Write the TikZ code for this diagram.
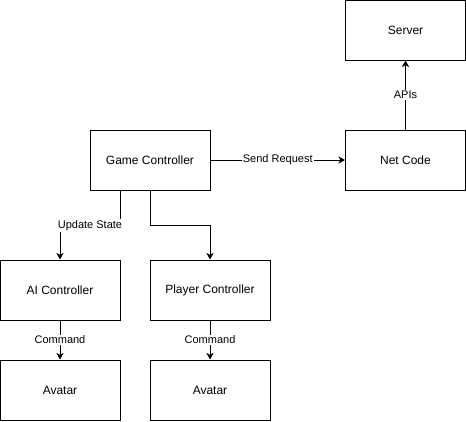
\documentclass[tikz,border=0pt]{standalone}
\usepackage{fontspec}
\setmainfont{Liberation Sans}
\usetikzlibrary{arrows.meta}
\begin{document}
\begin{tikzpicture}[x=0.75pt,y=-0.75pt,line width=0.75pt,
  block/.style={draw,minimum width=90pt,minimum height=45pt,inner sep=0pt,font=\fontsize{9}{11}\selectfont},
  lbl/.style={fill=white,inner sep=1pt,font=\fontsize{8.25}{10}\selectfont},
  >={Stealth[length=5pt,width=5.5pt,inset=1.5pt]}]
\useasboundingbox (0,0) rectangle (466,421);
% boxes
\node[block] (server) at (405.5,30) {Server};
\node[block] (netcode) at (405.5,160) {Net Code};
\node[block] (game) at (150,160) {Game Controller};
\node[block] (ai) at (60,290) {AI Controller};
\node[block] (player) at (210,290) {Player Controller};
\node[block] (avatarA) at (60,390) {Avatar};
\node[block] (avatarB) at (210,390) {Avatar};
% connectors
\draw[->] (game.east) -- node[lbl]{Send Request} (netcode.west);
\draw[->] (netcode) -- node[lbl]{APIs} (server);
\draw[->] ([xshift=-22.5pt]game.south) -- ++(0,35) -| node[lbl,pos=0.25]{Update State} (ai.north);
\draw[->] (game.south) -- ++(0,35) -| (player.north);
\draw[->] (ai) -- node[lbl]{Command} (avatarA);
\draw[->] (player) -- node[lbl]{Command} (avatarB);
\end{tikzpicture}
\end{document}
